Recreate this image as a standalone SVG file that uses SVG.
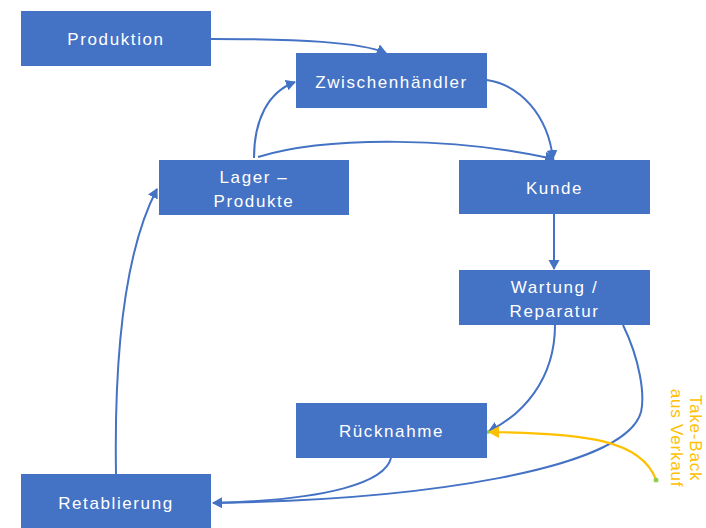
<svg xmlns="http://www.w3.org/2000/svg" width="706" height="528" viewBox="0 0 706 528">
<style>
.box{fill:#4472C4}
.lbl{font-family:"Liberation Sans",Arial,sans-serif;font-size:17px;letter-spacing:1.6px;fill:#ffffff;text-anchor:middle}
.c{fill:none;stroke:#4472C4;stroke-width:2}
.y{fill:none;stroke:#FFC000;stroke-width:2.2}
.note{font-family:"Liberation Sans",Arial,sans-serif;font-size:17px;letter-spacing:0.8px;fill:#FFC000;text-anchor:middle}
</style>
<defs>
<marker id="a" markerWidth="12" markerHeight="12" refX="9" refY="5.5" orient="auto" markerUnits="userSpaceOnUse"><path d="M0,0 L10,5.5 L0,11 Z" fill="#4472C4"/></marker>
<marker id="ay" markerWidth="12" markerHeight="12" refX="10" refY="6" orient="auto" markerUnits="userSpaceOnUse"><path d="M0,0 L11,6 L0,12 Z" fill="#FFC000"/></marker>
</defs>
<rect width="706" height="528" fill="#ffffff"/>
<g id="connectors">
<path class="c" d="M211,39 C300,39 360,42 386,53" marker-end="url(#a)"/>
<path class="c" d="M254,158 C254,120 268,92 295,82" marker-end="url(#a)"/>
<path class="c" d="M258,157 C330,135 460,138 554,159" marker-end="url(#a)"/>
<path class="c" d="M487,80 C520,85 548,115 553,159" marker-end="url(#a)"/>
<path class="c" d="M554,214 L554,269" marker-end="url(#a)"/>
<path class="c" d="M555,325 C555,380 522,415 489,431" marker-end="url(#a)"/>
<path class="c" d="M623,325 C640,360 645,395 641,412 C625,470 420,500 213,503" marker-end="url(#a)"/>
<path class="c" d="M391,458 C385,482 330,500 213,503"/>
<path class="c" d="M116,474 C114,350 125,250 157,189" marker-end="url(#a)"/>
<path class="y" d="M656,480 C642,440 585,433 489,432" marker-end="url(#ay)"/>
<circle cx="656" cy="480" r="2.5" fill="#92D050"/>
<circle cx="488" cy="432" r="2" fill="#92D050"/>
</g>
<g id="produktion"><rect class="box" x="21" y="11" width="190" height="55"/><text class="lbl" x="116" y="45">Produktion</text></g>
<g id="zwischenhaendler"><rect class="box" x="296" y="53" width="191" height="55"/><text class="lbl" x="391.5" y="88">Zwischenhändler</text></g>
<g id="lager"><rect class="box" x="159" y="160" width="190" height="55"/><text class="lbl" x="254" y="183">Lager –</text><text class="lbl" x="254" y="207">Produkte</text></g>
<g id="kunde"><rect class="box" x="459" y="160" width="191" height="54"/><text class="lbl" x="554.5" y="194">Kunde</text></g>
<g id="wartung"><rect class="box" x="459" y="270" width="191" height="55"/><text class="lbl" x="554.5" y="293">Wartung /</text><text class="lbl" x="554.5" y="317">Reparatur</text></g>
<g id="ruecknahme"><rect class="box" x="296" y="403" width="191" height="55"/><text class="lbl" x="391.5" y="437">Rücknahme</text></g>
<g id="retablierung"><rect class="box" x="21" y="474" width="190" height="54"/><text class="lbl" x="116" y="509">Retablierung</text></g>
<g id="takeback-label" transform="translate(687,438) rotate(90)"><text class="note" x="0" y="-3">Take-Back</text><text class="note" x="0" y="16">aus Verkauf</text></g>
</svg>
